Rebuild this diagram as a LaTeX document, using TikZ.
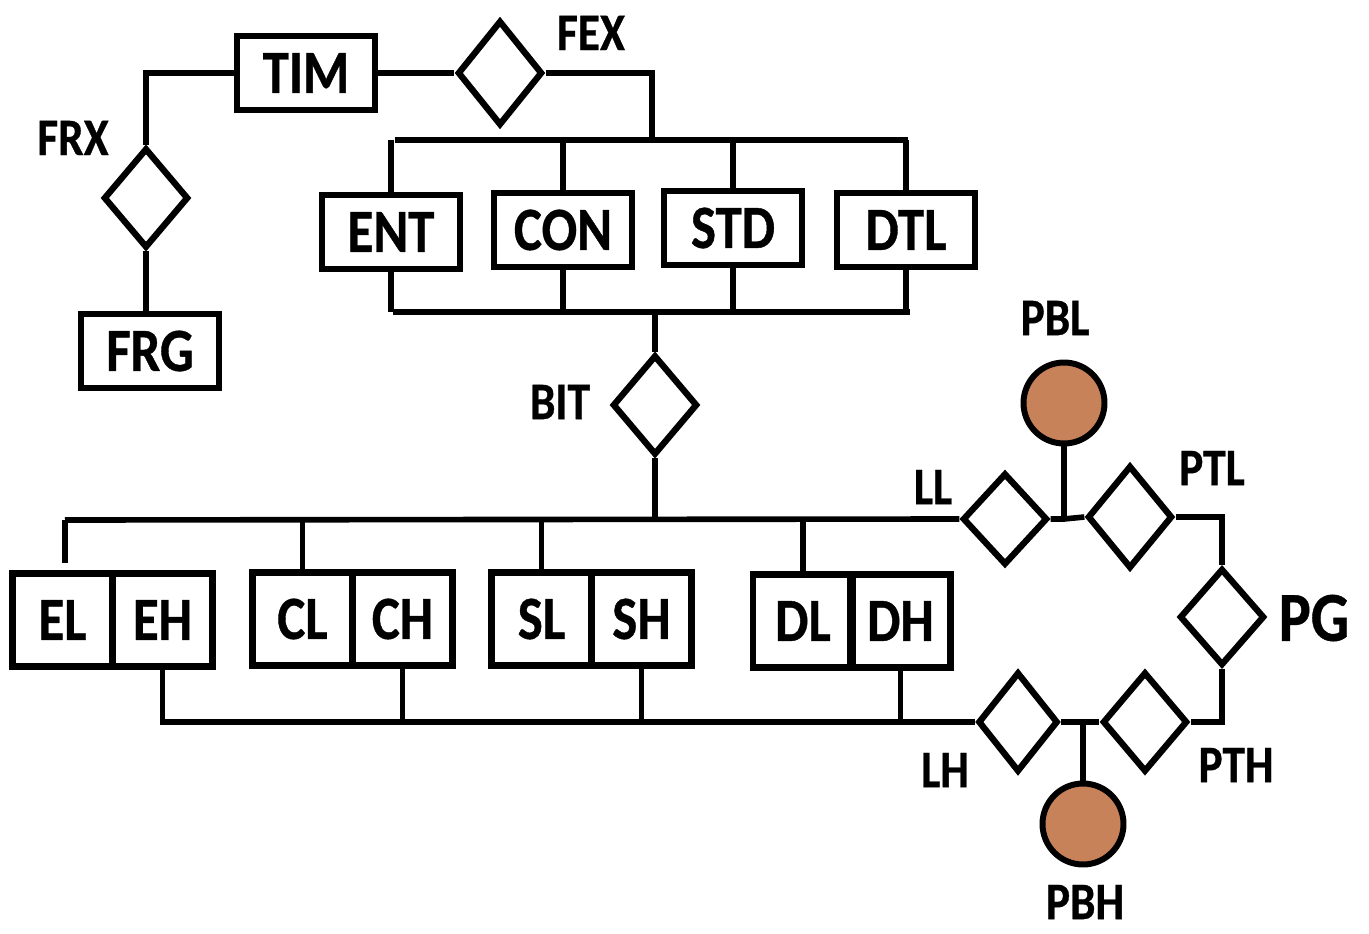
\documentclass[tikz,border=0pt]{standalone}
\usepackage{fontspec}
\setmainfont{Carlito}[FakeStretch=0.86,FakeBold=0.6]
\usetikzlibrary{shapes.geometric}
\definecolor{ballbrown}{HTML}{C8825A}
\tikzset{
  conn/.style={line width=3.2pt},
  ebox/.style={draw, line width=3.8pt, minimum width=2.76cm, minimum height=1.48cm, inner sep=0pt,
    font=\fontsize{35}{40}\selectfont\bfseries},
  hbox/.style={draw, line width=3.8pt, minimum width=2.0cm, minimum height=1.86cm, inner sep=0pt,
    font=\fontsize{35}{40}\selectfont\bfseries},
  rel/.style={draw, diamond, line width=3.6pt, inner sep=0pt, minimum width=1.7cm, minimum height=2.0cm},
  ball/.style={draw, circle, line width=3.4pt, fill=ballbrown, minimum size=1.62cm, inner sep=0pt},
  lab/.style={inner sep=0pt, font=\fontsize{30}{34}\selectfont\bfseries},
  biglab/.style={inner sep=0pt, font=\fontsize{40}{44}\selectfont\bfseries}
}
\begin{document}
\begin{tikzpicture}[x=0.02cm,y=-0.02cm]
\useasboundingbox (0,0) rectangle (1369,933);

% ---- top-left group
\node[ebox] (TIM) at (306,73) {TIM};
\node[ebox] (FRG) at (150,351) {FRG};
\node[rel, minimum height=2.1cm] (FEX) at (500,73) {};
\node[rel] (FRX) at (146,198) {};
\node[lab] (FEXl) at (591,33) {FEX};
\node[lab] (FRXl) at (73,138) {FRX};

% ---- entity row
\node[ebox] (ENT) at (391,232) {ENT};
\node[ebox] (CON) at (563,230) {CON};
\node[ebox] (STD) at (733,228) {STD};
\node[ebox] (DTL) at (906,230) {DTL};

\coordinate (ubL) at (395,140);
\coordinate (ubR) at (908,140);
\coordinate (lbL) at (393,312);
\coordinate (lbR) at (910,312);
\coordinate (ubJ) at (652,140);
\coordinate (lbJ) at (655,312);

\node[rel] (BIT) at (655,405) {};
\node[lab] (BITl) at (560,402) {BIT};

% ---- pair boxes
\node[hbox] (EL) at (62.5,620) {EL};
\node[hbox] (EH) at (162.5,620) {EH};
\node[hbox] (CL) at (302.5,619) {CL};
\node[hbox] (CH) at (402.5,619) {CH};
\node[hbox] (SL) at (541.5,619) {SL};
\node[hbox] (SH) at (641.5,619) {SH};
\node[hbox] (DL) at (803,621) {DL};
\node[hbox] (DH) at (900.5,621) {DH};

\coordinate (busL) at (65,520);
\coordinate (elEnd) at (65,563);
\coordinate (bitJ) at (655,520);
\coordinate (busH) at (160,722);

% ---- right part
\node[rel, minimum height=1.84cm] (LL) at (1005,519) {};
\node[rel, minimum height=2.06cm] (PTL) at (1130,517) {};
\node[rel, minimum height=1.94cm] (PG) at (1222,617) {};
\node[rel, minimum width=1.6cm] (LH) at (1018,722) {};
\node[rel] (PTH) at (1145,722) {};
\node[ball] (PBL) at (1064,403) {};
\node[ball] (PBH) at (1083,824) {};
\coordinate (jL) at (1064,519);
\coordinate (jH) at (1083,722);

\node[lab] (PBLl) at (1055,318) {PBL};
\node[lab] (LLl) at (933,487) {LL};
\node[lab] (PTLl) at (1212,468) {PTL};
\node[biglab] (PGl) at (1314,618) {PG};
\node[lab] (LHl) at (945,770) {LH};
\node[lab] (PTHl) at (1236,765) {PTH};
\node[lab] (PBHl) at (1085,902) {PBH};

% ---- connectors
\draw[conn] (FRX.north) |- (TIM.west);
\draw[conn] (FRX.south) -- (FRX.south |- FRG.north);
\draw[conn] (TIM.east) -- (FEX.west);
\draw[conn] (FEX.east) -| (ubJ);
\draw[conn] (ubL) -- (ubR);
\draw[conn] (lbL) -- (lbR);
\foreach \n in {ENT,CON,STD,DTL}{
  \draw[conn] (\n.north) -- (\n.north |- ubL);
  \draw[conn] (\n.south) -- (\n.south |- lbL);
}
\draw[conn] (lbJ) -- (BIT.north);
\draw[conn] (BIT.south) -- (bitJ);
\draw[conn] (busL) -- (LL.west);
\draw[conn] (busL) -- (elEnd);
\foreach \n in {CL,SL,DL}{
  \draw[conn] (\n.north) -- (\n.north |- busL);
}
\draw[conn] (busH) -- (LH.west);
\foreach \n in {EH,CH,SH,DH}{
  \draw[conn] (\n.south) -- (\n.south |- busH);
}
\draw[conn] (LL.east) -- (jL) -- (PTL.west);
\draw[conn] (PBL.south) -- (jL);
\draw[conn] (PTL.east) -| (PG.north);
\draw[conn] (PG.south) |- (PTH.east);
\draw[conn] (LH.east) -- (jH) -- (PTH.west);
\draw[conn] (jH) -- (PBH.north);
\end{tikzpicture}
\end{document}
